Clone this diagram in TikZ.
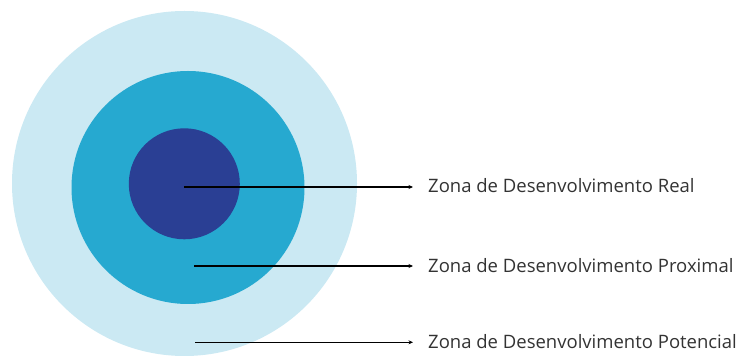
\documentclass[tikz,border=0pt]{standalone}
\usepackage{fontspec}
\setmainfont{Open Sans}
\usetikzlibrary{arrows.meta}
\definecolor{outerc}{HTML}{CBE9F3}
\definecolor{midc}{HTML}{26A9D0}
\definecolor{innerc}{HTML}{2A3F94}
\definecolor{txtc}{HTML}{333333}
\begin{document}
\begin{tikzpicture}[x=1pt,y=1pt,
  zone/.style={circle,inner sep=0pt,draw=none},
  lbl/.style={anchor=west,inner sep=0pt,font=\fontsize{18.5}{22}\selectfont,text=txtc},
  pointer/.style={line width=1.2pt,-{Stealth[length=4.5pt,width=4pt]},shorten >=15pt}]
\useasboundingbox (0,0) rectangle (739,356);
\node[zone,fill=outerc,minimum size=345pt] (outer) at (184.5,172.5) {};
\node[zone,fill=midc,minimum size=233pt] (mid) at (188,168.5) {};
\node[zone,fill=innerc,minimum size=111pt] (inner) at (184.3,172.2) {};
\coordinate (p1) at (184,169);
\coordinate (p2) at (194,90);
\coordinate (p3) at (195,13.7);
\node[lbl] (t1) at (428,170) {Zona de Desenvolvimento Real};
\node[lbl] (t2) at (428,90.5) {Zona de Desenvolvimento Proximal};
\node[lbl] (t3) at (428,14.5) {Zona de Desenvolvimento Potencial};
\draw[pointer] (p1) -- (p1 -| t1.west);
\draw[pointer] (p2) -- (p2 -| t2.west);
\draw[pointer] (p3) -- (p3 -| t3.west);
\end{tikzpicture}
\end{document}
